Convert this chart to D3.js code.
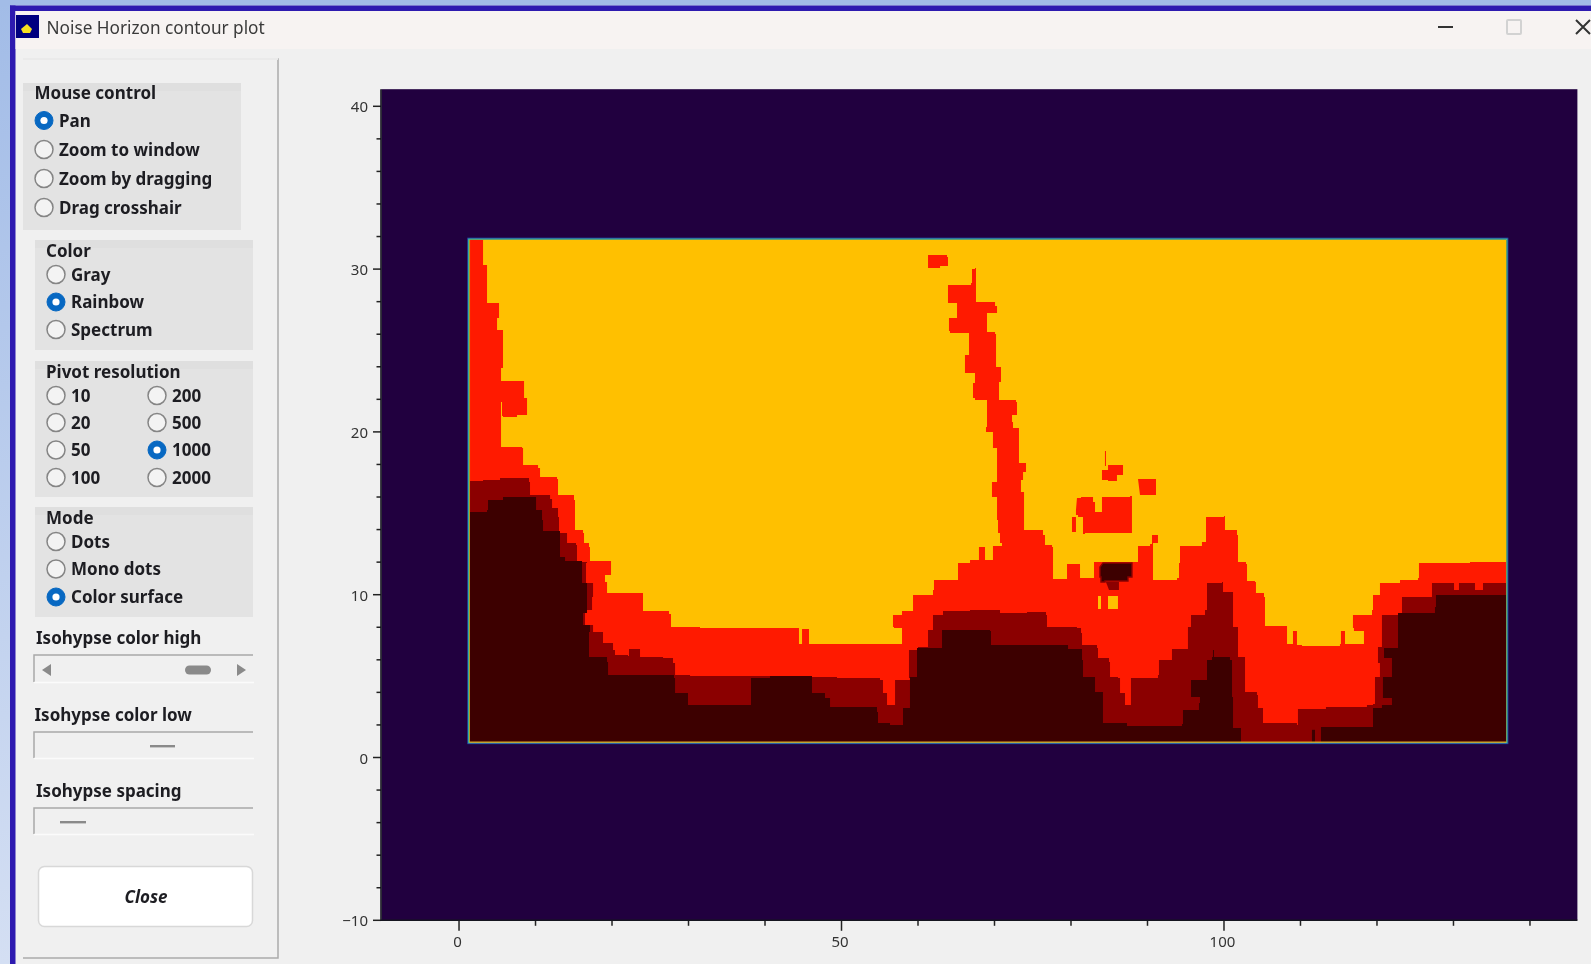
<!DOCTYPE html>
<html><head><meta charset="utf-8">
<script src="https://cdn.jsdelivr.net/npm/d3@7"></script>
<style>
html,body{margin:0;padding:0;background:#f0f0f0;overflow:hidden}
svg{display:block;filter:blur(0.55px)}
text{font-family:"Noto Sans",sans-serif}
</style></head><body>
<script>
// ---------- chart data (axis units) ----------
const xMajor=[0,50,100];
const xMinor=[10,20,30,40,60,70,80,90,110,120,130,140];
const yMajor=[-10,0,10,20,30,40];
const yMinor=[-8,-6,-4,-2,2,4,6,8,12,14,16,18,22,24,26,28,32,34,36,38];
const surfaceBox=[[1.35,0.95],[136.9,31.8]];

const redMain=[[1.44,31.79],[3.01,31.79],[3.14,30.25],[3.66,30.13],[3.66,27.92],[5.23,27.79],[5.23,27],[4.97,26.26],[5.75,25.89],[5.75,23.93],[5.49,23.8],[5.49,23.13],[8.37,23.13],[8.5,22.08],[8.89,21.96],[8.89,21.04],[7.58,20.92],[5.75,20.98],[5.62,21.84],[5.49,21.84],[5.49,19.07],[8.24,19.01],[8.37,17.97],[10.33,17.78],[10.59,17.23],[12.81,17.11],[12.94,16.12],[15.03,15.82],[15.16,13.97],[16.21,13.79],[16.34,13.18],[16.99,12.93],[17.12,12.07],[19.87,11.82],[19.87,11.21],[19.08,10.78],[19.35,10.1],[24.05,9.92],[24.05,9],[27.45,8.81],[27.71,8.02],[31.5,7.95],[44.44,7.83],[44.44,6.97],[44.84,6.97],[44.84,7.89],[45.62,7.89],[45.75,6.97],[57.91,6.97],[57.91,7.95],[56.86,8.02],[56.73,8.75],[57.91,9],[59.35,9.06],[59.35,9.98],[61.96,10.29],[62.09,10.9],[65.23,11.03],[65.23,11.95],[66.8,12.13],[67.97,12.13],[67.97,12.93],[68.76,12.93],[68.76,12.13],[69.8,12.13],[69.8,12.99],[70.98,13.18],[70.72,13.79],[70.46,14.59],[70.33,16],[69.67,16.31],[69.67,16.92],[70.33,17.35],[70.33,19.01],[69.8,19.07],[69.8,19.99],[68.89,20.3],[69.02,20.92],[69.02,21.96],[67.45,22.08],[67.19,23],[67.45,23.62],[66.14,23.99],[66.14,24.72],[66.67,25.15],[66.67,26.07],[64.18,26.2],[64.05,27],[65.1,27.06],[65.1,27.92],[63.92,27.98],[63.92,29.02],[66.93,29.15],[67.06,30],[67.45,30.07],[67.58,27.98],[70.07,27.73],[70.33,27.61],[70.33,27.3],[69.02,27.06],[69.02,26.14],[70.07,26.01],[70.2,23.99],[70.85,23.62],[70.85,23.07],[70.59,22.76],[70.59,21.96],[72.81,21.84],[72.94,21.04],[72.29,20.61],[72.42,20.24],[73.2,19.93],[73.2,18.09],[74.12,17.54],[73.73,17.05],[73.46,16.31],[73.86,15.94],[73.86,13.97],[76.34,13.67],[76.6,13.05],[77.52,12.93],[77.65,10.96],[79.48,10.96],[79.48,11.89],[80.92,11.89],[81.18,11.03],[82.88,11.03],[83.01,12.01],[88.76,12.01],[88.76,12.99],[90.33,13.11],[90.59,13.67],[91.37,13.67],[91.37,13.18],[90.72,12.99],[90.72,10.9],[93.86,11.03],[94.12,11.95],[94.25,12.99],[97.12,13.24],[97.65,13.85],[97.65,14.77],[100,14.83],[100.13,13.97],[101.7,13.67],[101.83,12.01],[102.88,11.89],[103.01,10.84],[104.05,10.78],[104.18,10.1],[105.23,9.86],[105.36,8.08],[108.24,7.77],[108.24,6.97],[108.89,6.97],[109.02,7.77],[109.41,7.77],[109.54,6.91],[110.2,6.85],[115.16,6.97],[115.29,7.77],[115.69,7.77],[115.82,6.97],[118.3,6.97],[118.3,7.77],[116.99,7.95],[116.86,8.75],[119.35,9.06],[119.48,9.98],[120.39,10.72],[123.01,10.9],[125.36,11.03],[125.49,11.95],[132.16,12.01],[136.86,12.13],[136.86,0.95],[1.44,0.95]];
const redIslandTop=[[61.31,30.86],[63.79,30.74],[63.92,30.19],[62.88,30.07],[61.31,30.25]];
const redIslandOval=[[84.05,17.66],[84.84,17.97],[86.8,17.66],[86.8,17.35],[86.01,16.98],[84.84,17.05],[84.05,17.35]];
const redIslandSpike=[[84.44,18.83],[84.57,18.83],[84.57,17.9],[84.44,17.9]];
const redIslandSquare=[[88.76,17.11],[90.98,17.11],[91.11,16.12],[89.02,16.12]];
const redIslandBlock=[[80.78,15.94],[81.31,16],[82.88,15.69],[83.14,15.08],[83.92,15.08],[84.05,16],[87.71,16.06],[87.97,13.79],[81.83,13.73],[81.57,14.77],[80.92,14.9],[80.65,14.71],[80.65,13.85],[80.26,13.85],[80.13,14.77],[80.65,15.2]];

const darkMain=[[1.44,16.98],[3.14,17.05],[5.36,17.17],[8.63,17.17],[9.15,16.92],[9.28,16.12],[11.9,15.88],[12.16,15.33],[12.94,14.77],[13.07,13.79],[14.12,13.67],[14.12,13.18],[15.29,13.05],[15.42,12.01],[16.73,11.95],[16.6,10.72],[17.52,9.86],[17.39,9.06],[16.47,8.75],[16.47,8.14],[17.52,7.71],[18.82,7.71],[18.82,7.03],[20.13,6.61],[20.39,6.3],[22.09,6.23],[22.22,6.66],[23.53,6.66],[23.66,6.17],[26.67,6.11],[27.97,5.8],[28.24,5.07],[30.2,5],[38.04,5],[46.14,4.94],[49.41,4.88],[55.03,4.76],[55.42,3.96],[55.95,3.22],[56.73,3.22],[57,4.76],[58.95,4.88],[58.82,6.6],[60,6.79],[61.31,7.03],[61.31,7.83],[61.96,8.75],[63.27,9],[66.8,9.06],[70.72,8.88],[74.25,8.94],[76.73,8.75],[76.86,8.02],[80.78,7.95],[81.31,7.65],[81.44,6.91],[83.4,6.73],[83.53,6.11],[84.97,5.87],[85.1,4.94],[86.14,4.88],[86.41,3.96],[87.06,3.22],[87.58,3.22],[87.84,4.88],[91.37,5.07],[91.5,5.99],[93.2,6.66],[95.29,6.97],[95.29,8.02],[95.69,8.75],[97.52,9.06],[97.78,10.72],[99.74,10.78],[99.87,10.17],[101.18,9.86],[101.18,8.02],[101.83,7.83],[101.83,6.17],[102.75,5.68],[102.75,4.02],[104.31,3.84],[104.44,3.04],[105.1,2.92],[105.1,2.12],[109.54,2],[109.67,2.98],[113.33,3.1],[118.69,3.22],[119.48,3.29],[119.74,4.94],[120.39,5.8],[120.13,6.79],[120.65,8.75],[122.75,8.88],[123.27,9.86],[127.19,10.29],[127.19,10.72],[129.93,10.72],[130.07,10.29],[130.72,10.29],[130.72,10.72],[132.68,10.72],[132.81,10.29],[133.86,10.29],[133.86,10.72],[136.86,10.72],[136.86,0.95],[1.44,0.95]];
const darkTail=[[84.57,10.78],[86.27,10.78],[86.27,10.29],[84.97,10.29]];

const deepLeft=[[1.44,15.08],[3.14,15.08],[3.66,15.2],[3.79,15.82],[5.75,16],[9.67,16],[10.07,15.2],[10.85,14.59],[10.98,13.91],[13.2,13.67],[13.2,12.32],[13.86,12.07],[16.08,11.95],[16.08,10.72],[16.73,10.1],[16.73,8.88],[16.21,8.63],[16.21,8.14],[17.12,7.71],[16.99,6.17],[19.35,5.87],[19.48,5.07],[26.67,5.07],[28.1,4.88],[28.24,3.96],[29.93,3.22],[38.04,3.22],[38.17,4.88],[40.65,5],[46.14,4.94],[46.14,3.96],[47.84,3.65],[48.5,3.1],[54.64,2.79],[54.77,2.12],[56.34,2],[58.04,2.12],[58.04,3.04],[58.95,3.22],[58.95,4.94],[59.87,6.73],[63.14,6.97],[63.14,7.83],[69.41,7.77],[69.54,6.91],[79.61,6.66],[81.44,5.99],[81.57,4.94],[83.14,4.02],[84.18,2.12],[87.32,1.93],[94.51,2.06],[94.64,2.92],[96.73,3.35],[96.86,3.72],[95.69,4.02],[95.69,4.76],[97.78,5.37],[97.78,5.99],[98.43,6.17],[98.56,6.6],[98.69,6.17],[100.78,5.99],[101.05,3.72],[101.18,1.81],[102.22,1.81],[102.22,0.95],[1.44,0.95]];
const deepRight=[[112.68,0.95],[112.68,1.87],[119.48,2],[119.48,3.04],[120.65,3.22],[121.96,3.22],[121.96,3.65],[120.78,3.72],[120.78,4.94],[121.96,4.94],[121.96,6.11],[120.92,6.17],[120.92,6.73],[122.09,6.73],[122.75,7.95],[122.75,8.88],[127.58,9.24],[127.71,9.98],[136.86,9.98],[136.86,0.95]];
const deepSliver=[[111.5,0.95],[111.5,1.7],[111.9,1.7],[111.9,0.95]];
const deepIsland=[[84.18,11.95],[87.45,11.95],[87.97,11.7],[87.97,11.09],[87.45,10.84],[84.44,10.78],[83.92,11.09],[83.79,11.7]];

const yellowHoleA=[[83.53,9.92],[83.92,9.92],[83.92,9.12],[83.53,9.12]];
const yellowHoleB=[[84.84,9.92],[86.14,9.92],[86.14,9.12],[84.84,9.12]];

// ---------- interface text ----------
const windowTitle="Noise Horizon contour plot";
const mouseOptions=["Pan","Zoom to window","Zoom by dragging","Drag crosshair"];
const colorOptions=["Gray","Rainbow","Spectrum"];
const pivotLeft=["10","20","50","100"];
const pivotRight=["200","500","1000","2000"];
const modeOptions=["Dots","Mono dots","Color surface"];

// ---------- drawing ----------
const svg=d3.select("body").append("svg").attr("width",1591).attr("height",964);
const defs=svg.append("defs");
const g1=defs.append("linearGradient").attr("id","sky").attr("x1",0).attr("x2",0).attr("y1",0).attr("y2",1);
g1.append("stop").attr("offset",0).attr("stop-color","#a2bce7");
g1.append("stop").attr("offset",1).attr("stop-color","#d4dff3");

const rect=(x,y,w,h,fill,extra={})=>{const r=svg.append("rect").attr("x",x).attr("y",y).attr("width",w).attr("height",h).attr("fill",fill);
  Object.entries(extra).forEach(([k,v])=>r.attr(k,v));return r;};
const label=(x,y,t,extra={})=>{const s=svg.append("text").attr("x",x).attr("y",y+0.6).attr("dy","0.35em").text(t)
  .attr("font-size",17).attr("font-weight",700).attr("fill","#1d1d22");
  Object.entries(extra).forEach(([k,v])=>s.attr(k,v));return s;};

// window frame
rect(0,0,1591,964,"#f0f0f0");
rect(0,0,11,964,"url(#sky)");
rect(0,0,1591,5.5,"#a2bce7");
rect(10,5.5,1581,5.5,"#2d1ab0");
rect(10,5.5,5.5,959,"#2d1ab0");
rect(15.5,11,1576,38,"#f7f3f2");
// title bar
rect(16,15,23,23,"#000080");
svg.append("path").attr("d",d3.line()([[27,24],[32,29],[30,33],[23,33],[21,29]])+"Z").attr("fill","#f5e021");
label(46.5,27.5,windowTitle,{"font-weight":400,"font-size":17.2,fill:"#3a3a3a"});
svg.append("line").attr("x1",1438).attr("x2",1453).attr("y1",27).attr("y2",27).attr("stroke","#333").attr("stroke-width",2);
rect(1507,20,14,14,"none",{stroke:"#d2d2d2","stroke-width":2,rx:1});
svg.append("path").attr("d","M1576,20L1590,34M1590,20L1576,34").attr("stroke","#333").attr("stroke-width",2);

// side panel
svg.append("path").attr("d","M23,59H278V958H23").attr("fill","none").attr("stroke","#ababab").attr("stroke-width",1.5);
svg.append("path").attr("d","M23,59H278").attr("fill","none").attr("stroke","#fafafa").attr("stroke-width",1.5);

const group=(x,y,w,h,title,tx,ty)=>{rect(x,y,w,h,"#e3e3e3");rect(x,y,w,8,"#dfdfdf");label(tx,ty,title);};
const radio=(cx,cy,checked,t,tx)=>{
  svg.append("circle").attr("cx",cx).attr("cy",cy).attr("r",9).attr("fill",checked?"#0768c2":"#f3f3f3")
    .attr("stroke",checked?"#0768c2":"#858585").attr("stroke-width",checked?1:1.5);
  if(checked)svg.append("circle").attr("cx",cx).attr("cy",cy).attr("r",3.6).attr("fill","#fff");
  label(tx,cy-0.5,t);
};
group(23,83,218,147,"Mouse control",34.5,92.5);
[120.5,149.5,178.5,207.5].forEach((cy,i)=>radio(44,cy,i===0,mouseOptions[i],59));
group(35,240,218,110,"Color",46,250);
[274.5,302,329.5].forEach((cy,i)=>radio(56,cy,i===1,colorOptions[i],71));
group(35,361,218,136,"Pivot resolution",46,371);
[395.5,422.5,450,477.5].forEach((cy,i)=>{radio(56,cy,false,pivotLeft[i],71);radio(157,cy,i===2,pivotRight[i],172);});
group(35,507,218,110,"Mode",46,517);
[541.5,569,597].forEach((cy,i)=>radio(56,cy,i===2,modeOptions[i],71));

label(36,637.5,"Isohypse color high");
const sliderBox=(y0,y1)=>svg.append("path").attr("d",`M34,${y1}V${y0}H253`).attr("fill","none").attr("stroke","#a8a8a8").attr("stroke-width",1.5);
const lightEdge=(y)=>svg.append("line").attr("x1",34).attr("x2",254).attr("y1",y).attr("y2",y).attr("stroke","#fbfbfb").attr("stroke-width",1.5);
sliderBox(655,682);lightEdge(682.5);
svg.append("path").attr("d","M42,670L51,664V676Z").attr("fill","#8a8a8a");
svg.append("path").attr("d","M246,670L237,664V676Z").attr("fill","#8a8a8a");
rect(185,665.5,26,9,"#8a8a8a",{rx:4.5});
label(34.5,714,"Isohypse color low");
sliderBox(732,758);lightEdge(758.5);
rect(150,745,25,2.4,"#8a8a8a");
label(36,790,"Isohypse spacing");
sliderBox(808,834);lightEdge(834.5);
rect(60,821,26,2.4,"#8a8a8a");
rect(38.5,866.5,214,60,"#ffffff",{rx:6,stroke:"#d8d8d8","stroke-width":1.5});
label(146,896.5,"Close",{"text-anchor":"middle","font-style":"italic"});

// plot
const x=d3.scaleLinear().domain([-10.2,146.2]).range([381,1577.4]);
const y=d3.scaleLinear().domain([-10,41.05]).range([920.3,89.2]);
const poly=d3.line().x(d=>x(d[0])).y(d=>y(d[1])).curve(d3.curveStepAfter);

const tickStyle=(sel)=>{
  sel.attr("font-family",'"Noto Sans",sans-serif').attr("font-size",15);
  sel.selectAll("text").attr("fill","#333");
  sel.selectAll("line").attr("stroke","#222").attr("stroke-width",1.5);
  sel.select(".domain").remove();
};
const axisG=svg.append("g");
axisG.append("g").attr("transform",`translate(${x(-10.2)},0)`)
  .call(d3.axisLeft(y).offset(0).tickValues(yMinor).tickSize(4.5).tickFormat("")).call(tickStyle);
axisG.append("g").attr("transform",`translate(${x(-10.2)},0)`)
  .call(d3.axisLeft(y).offset(0).tickValues(yMajor).tickSize(8).tickPadding(5).tickFormat(d3.format("d"))).call(tickStyle)
  .selectAll("text").attr("y",1.3);
axisG.append("g").attr("transform",`translate(0,${y(-10)})`)
  .call(d3.axisBottom(x).offset(0).tickValues(xMinor).tickSize(5.5).tickFormat("")).call(tickStyle);
axisG.append("g").attr("transform",`translate(0,${y(-10)})`)
  .call(d3.axisBottom(x).offset(0).tickValues(xMajor).tickSize(10.5).tickPadding(6).tickFormat(d3.format("d"))).call(tickStyle)
  .selectAll("text").attr("dx",-1.5);

const plotL=x(-10.2),plotT=y(41.05),plotR=x(146.2),plotB=y(-10);
rect(plotL+0.5,plotT,plotR-plotL-0.5,plotB-plotT,"#21003f");
svg.append("path").attr("d",`M${plotL},${plotT}V${plotB}H${plotR}`).attr("fill","none").attr("stroke","#15151f").attr("stroke-width",1.6);

// surface with its rainbow rim
const bx=x(surfaceBox[0][0]),bw=x(surfaceBox[1][0])-bx,by=y(surfaceBox[1][1]),bh=y(surfaceBox[0][1])-by;
rect(bx-1.5,by-1.5,bw+3,bh+3,"none",{stroke:"#2446a8","stroke-width":1.2});
rect(bx-0.6,by-0.6,bw+1.2,bh+1.2,"none",{stroke:"#3ac7a0","stroke-width":1.2});
rect(bx,by,bw,bh,"#ffc000");

const levels=[
  {fill:"#ff1a00",parts:[redMain,redIslandTop,redIslandOval,redIslandSpike,redIslandSquare,redIslandBlock]},
  {fill:"#8b0000",parts:[darkMain,darkTail]},
  {fill:"#3d0000",parts:[deepLeft,deepRight,deepSliver,deepIsland]},
  {fill:"#ffc000",parts:[yellowHoleA,yellowHoleB]}
];
svg.append("g").selectAll("g").data(levels).join("g").attr("fill",d=>d.fill)
  .selectAll("path").data(d=>d.parts).join("path").attr("d",d=>poly(d)+"Z");
// darkest island carries a thin dark-red rim
svg.append("path").attr("d",poly(deepIsland)+"Z").attr("fill","#3d0000").attr("stroke","#8b0000").attr("stroke-width",1.4);
// warm inner rim along bottom
svg.append("line").attr("x1",bx).attr("x2",bx+bw).attr("y1",by+bh).attr("y2",by+bh).attr("stroke","#e0a020").attr("stroke-width",1.2);
</script>
</body></html>
